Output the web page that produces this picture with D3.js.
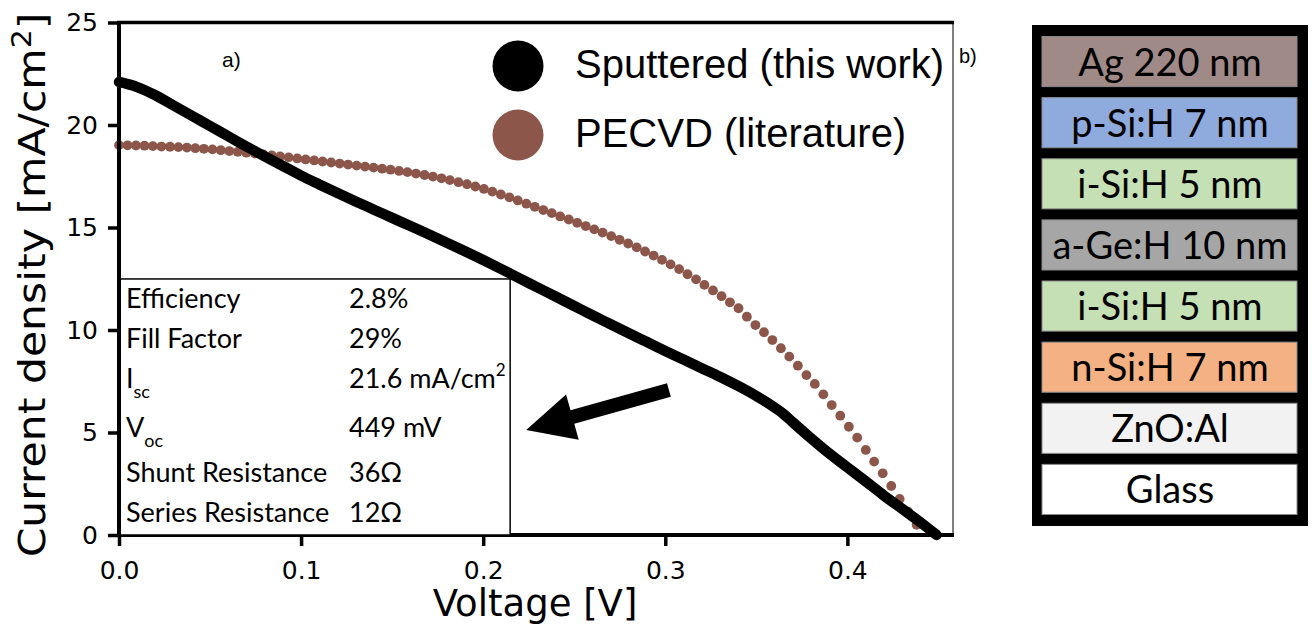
<!DOCTYPE html>
<html><head><meta charset="utf-8">
<script src="https://cdn.jsdelivr.net/npm/d3@7"></script>
<style>body{margin:0;background:#fff} svg{display:block}</style>
</head><body>
<svg id="c" width="1312" height="627"></svg>
<script>
// ---------- data ----------
const sputteredV = [0, 0.01, 0.02, 0.03, 0.04, 0.05, 0.06, 0.07, 0.08, 0.09, 0.10, 0.11, 0.12, 0.13, 0.14, 0.15, 0.16, 0.17, 0.18, 0.19, 0.20, 0.21, 0.22, 0.23, 0.24, 0.25, 0.26, 0.27, 0.28, 0.29, 0.30, 0.31, 0.32, 0.33, 0.34, 0.35, 0.36, 0.365, 0.37, 0.38, 0.39, 0.40, 0.41, 0.42, 0.43, 0.44, 0.449];
const sputteredJ = [22.1, 21.85, 21.45, 20.95, 20.45, 19.95, 19.45, 18.95, 18.47, 18.0, 17.53, 17.1, 16.68, 16.27, 15.87, 15.47, 15.07, 14.67, 14.26, 13.84, 13.41, 12.97, 12.52, 12.07, 11.62, 11.17, 10.72, 10.28, 9.84, 9.41, 8.98, 8.56, 8.14, 7.72, 7.27, 6.78, 6.22, 5.9, 5.5, 4.72, 3.98, 3.3, 2.62, 1.93, 1.28, 0.63, 0.0];

const pecvdV = [0, 0.0047, 0.0093, 0.0140, 0.0186, 0.0233, 0.0280, 0.0326, 0.0373, 0.0419,
  0.0466, 0.0513, 0.0559, 0.0606, 0.0652, 0.0699, 0.0746, 0.0792, 0.0839, 0.0885,
  0.0932, 0.0979, 0.1025, 0.1072, 0.1118, 0.1165, 0.1212, 0.1258, 0.1305, 0.1351,
  0.1398, 0.1445, 0.1491, 0.1538, 0.1584, 0.1631, 0.1678, 0.1724, 0.1771, 0.1817,
  0.1864, 0.1911, 0.1957, 0.2004, 0.2050, 0.2097, 0.2144, 0.2190, 0.2237, 0.2283,
  0.2330, 0.2377, 0.2423, 0.2470, 0.2516, 0.2563, 0.2610, 0.2656, 0.2703, 0.2749,
  0.2796, 0.2843, 0.2889, 0.2936, 0.2982, 0.3029, 0.3076, 0.3122, 0.3169, 0.3215,
  0.3262, 0.3309, 0.3355, 0.3402, 0.3448, 0.3495, 0.3542, 0.3588, 0.3635, 0.3681,
  0.3728, 0.3775, 0.3821, 0.3868, 0.3914, 0.3961, 0.4008, 0.4054, 0.4101, 0.4147,
  0.4194, 0.4241, 0.4287, 0.4334, 0.4380];
const pecvdJ = [19.02, 19.01, 19.00, 18.99, 18.97, 18.95, 18.94, 18.92, 18.90, 18.87,
  18.84, 18.81, 18.77, 18.73, 18.69, 18.65, 18.61, 18.56, 18.52, 18.47,
  18.42, 18.37, 18.32, 18.27, 18.22, 18.17, 18.12, 18.07, 18.02, 17.97,
  17.92, 17.87, 17.82, 17.76, 17.70, 17.63, 17.56, 17.48, 17.40, 17.31,
  17.21, 17.11, 17.00, 16.88, 16.75, 16.61, 16.47, 16.32, 16.16, 16.01,
  15.85, 15.70, 15.54, 15.39, 15.23, 15.07, 14.91, 14.75, 14.58, 14.40,
  14.22, 14.03, 13.83, 13.63, 13.42, 13.20, 12.97, 12.72, 12.47, 12.20,
  11.93, 11.65, 11.35, 11.06, 10.65, 10.24, 9.89, 9.51, 9.11, 8.70,
  8.26, 7.80, 7.37, 6.86, 6.34, 5.82, 5.28, 4.75, 4.15, 3.58,
  3.01, 2.39, 1.76, 1.14, 0.50];

const xTicks = [0, 0.1, 0.2, 0.3, 0.4];
const yTicks = [0, 5, 10, 15, 20, 25];
const legendLabels = ["Sputtered (this work)", "PECVD (literature)"];
const seriesColors = ["#000000", "#8c564b"];

const tableLabels = [["Efficiency", ""], ["Fill Factor", ""], ["I", "sc"], ["V", "oc"], ["Shunt Resistance", ""], ["Series Resistance", ""]];
const tableValues = [["2.8%", ""], ["29%", ""], ["21.6 mA/cm", "2"], ["449 mV", ""], ["36Ω", ""], ["12Ω", ""]];

const layerNames = ["Ag 220 nm", "p-Si:H 7 nm", "i-Si:H 5 nm", "a-Ge:H 10 nm", "i-Si:H 5 nm", "n-Si:H 7 nm", "ZnO:Al", "Glass"];
const layerColors = ["#a08a87", "#8faadc", "#c5e0b4", "#a6a6a6", "#c5e0b4", "#f4b183", "#f2f2f2", "#ffffff"];

// ---------- layout ----------
const svg = d3.select("#c");
const L = 119, R = 953, T = 22.5, B = 535;
const x = d3.scaleLinear().domain([0, 0.458]).range([L, R]);
const y = d3.scaleLinear().domain([0, 25]).range([B, T]);

// axes ticks
const gx = svg.append("g").attr("transform", `translate(0,${B})`)
  .call(d3.axisBottom(x).tickValues(xTicks).tickFormat(d3.format(".1f")).tickSize(11).tickPadding(15));
const gy = svg.append("g").attr("transform", `translate(${L},0)`)
  .call(d3.axisLeft(y).tickValues(yTicks).tickFormat(d3.format("d")).tickSize(11).tickPadding(10));
[gx, gy].forEach(g => {
  g.select(".domain").remove();
  g.selectAll(".tick line").attr("stroke", "#000").attr("stroke-width", 3.5);
  g.selectAll(".tick text").attr("fill", "#000").style("font-family", "DejaVu Sans").style("font-size", "25px");
});

// series
const pts = pecvdV.map((v, i) => [v, pecvdJ[i]]);
svg.append("g").selectAll("circle").data(pts).join("circle")
  .attr("cx", d => x(d[0])).attr("cy", d => y(d[1])).attr("r", 4.9).attr("fill", seriesColors[1]);

const spt = sputteredV.map((v, i) => [v, sputteredJ[i]]);
svg.append("path").datum(spt)
  .attr("d", d3.line().x(d => x(d[0])).y(d => y(d[1])).curve(d3.curveMonotoneX))
  .attr("fill", "none").attr("stroke", seriesColors[0]).attr("stroke-width", 10.5).attr("stroke-linecap", "round").attr("stroke-linejoin", "round");

// spines
svg.append("line").attr("x1", R).attr("x2", R).attr("y1", T).attr("y2", B).attr("stroke", "#555").attr("stroke-width", 1.5);
svg.append("line").attr("x1", L - 2).attr("x2", R + 1).attr("y1", T).attr("y2", T).attr("stroke", "#000").attr("stroke-width", 3.5);
svg.append("line").attr("x1", L - 2).attr("x2", R + 1).attr("y1", B).attr("y2", B).attr("stroke", "#000").attr("stroke-width", 4);
svg.append("line").attr("x1", L).attr("x2", L).attr("y1", T - 1.5).attr("y2", B + 2).attr("stroke", "#000").attr("stroke-width", 4);

// axis labels
svg.append("text").attr("x", 535).attr("y", 616).attr("text-anchor", "middle")
  .style("font-family", "DejaVu Sans").style("font-size", "37px").text("Voltage [V]");
const yl = svg.append("text").attr("transform", "translate(45,285) rotate(-90) scale(1.15,1)").attr("text-anchor", "middle")
  .style("font-family", "DejaVu Sans").style("font-size", "37px");
yl.append("tspan").text("Current density [mA/cm");
yl.append("tspan").attr("dy", -14).style("font-size", "26px").text("2");
yl.append("tspan").attr("dy", 14).text("]");

// panel labels
svg.append("text").attr("x", 222).attr("y", 67).style("font-family", "Liberation Sans").style("font-size", "21px").text("a)");
svg.append("text").attr("x", 959).attr("y", 63).style("font-family", "Liberation Sans").style("font-size", "20px").text("b)");

// legend
legendLabels.forEach((lab, i) => {
  const cy = 66 + i * 69;
  svg.append("circle").attr("cx", 518).attr("cy", cy).attr("r", 25.5).attr("fill", seriesColors[i]);
  svg.append("text").attr("x", 575).attr("y", cy + 11.5).style("font-family", "Liberation Sans").style("font-size", "40px").text(lab);
});

// inset table
const tableTopJ = 12.49, tableRightV = 0.2148;
svg.append("rect").attr("x", x(0)).attr("y", y(tableTopJ)).attr("width", x(tableRightV) - x(0)).attr("height", y(0) - y(tableTopJ))
  .attr("fill", "#fff").attr("stroke", "#000").attr("stroke-width", 1.5);
svg.append("line").attr("x1", L).attr("x2", L).attr("y1", y(tableTopJ)).attr("y2", B).attr("stroke", "#000").attr("stroke-width", 4);
const rowBase = [308, 348, 388, 437, 482, 522];
const tf = "Lato", tfs = 27;
tableLabels.forEach((lab, i) => {
  const t = svg.append("text").attr("x", 126).attr("y", rowBase[i]).style("font-family", tf).style("font-size", tfs + "px");
  t.append("tspan").text(lab[0]);
  if (lab[1]) t.append("tspan").attr("dy", 10).style("font-size", "18px").text(lab[1]);
  const v = svg.append("text").attr("x", 349).attr("y", rowBase[i]).style("font-family", tf).style("font-size", tfs + "px");
  v.append("tspan").text(tableValues[i][0]);
  if (tableValues[i][1]) v.append("tspan").attr("dy", -12).style("font-size", "17px").text(tableValues[i][1]);
});

// arrow annotation (data coords of tail and tip)
const tail = [x(0.302), y(7.07)], tip = [x(0.2236), y(5.12)];
const dx = tip[0] - tail[0], dy = tip[1] - tail[1], len = Math.hypot(dx, dy);
const ux = dx / len, uy = dy / len, nx = -uy, ny = ux;
const hw = 7, hh = 23.5, hl = 48;
const base = [tip[0] - ux * hl, tip[1] - uy * hl];
const poly = [
  [tail[0] + nx * hw, tail[1] + ny * hw], [base[0] + nx * hw, base[1] + ny * hw], [base[0] + nx * hh, base[1] + ny * hh],
  tip, [base[0] - nx * hh, base[1] - ny * hh], [base[0] - nx * hw, base[1] - ny * hw], [tail[0] - nx * hw, tail[1] - ny * hw]
];
svg.append("polygon").attr("points", poly.map(p => p.join(",")).join(" ")).attr("fill", "#000");

// layer stack (panel b)
svg.append("rect").attr("x", 1032).attr("y", 25).attr("width", 276).attr("height", 501).attr("fill", "#000");
const ly = d3.scaleBand().domain(layerNames.map((d, i) => i)).range([31, 520]).paddingInner(0.18).paddingOuter(0.09);
const lg = svg.append("g").selectAll("g").data(layerNames).join("g");
lg.append("rect").attr("x", 1042).attr("width", 255).attr("y", (d, i) => ly(i)).attr("height", ly.bandwidth())
  .attr("fill", (d, i) => layerColors[i]).attr("stroke", "#8a8a8a").attr("stroke-width", 1);
lg.append("text").attr("x", 1170).attr("y", (d, i) => ly(i) + ly.bandwidth() / 2 + 14).attr("text-anchor", "middle")
  .style("font-family", "Lato").style("font-size", "38px").text(d => d);
</script>
</body></html>
